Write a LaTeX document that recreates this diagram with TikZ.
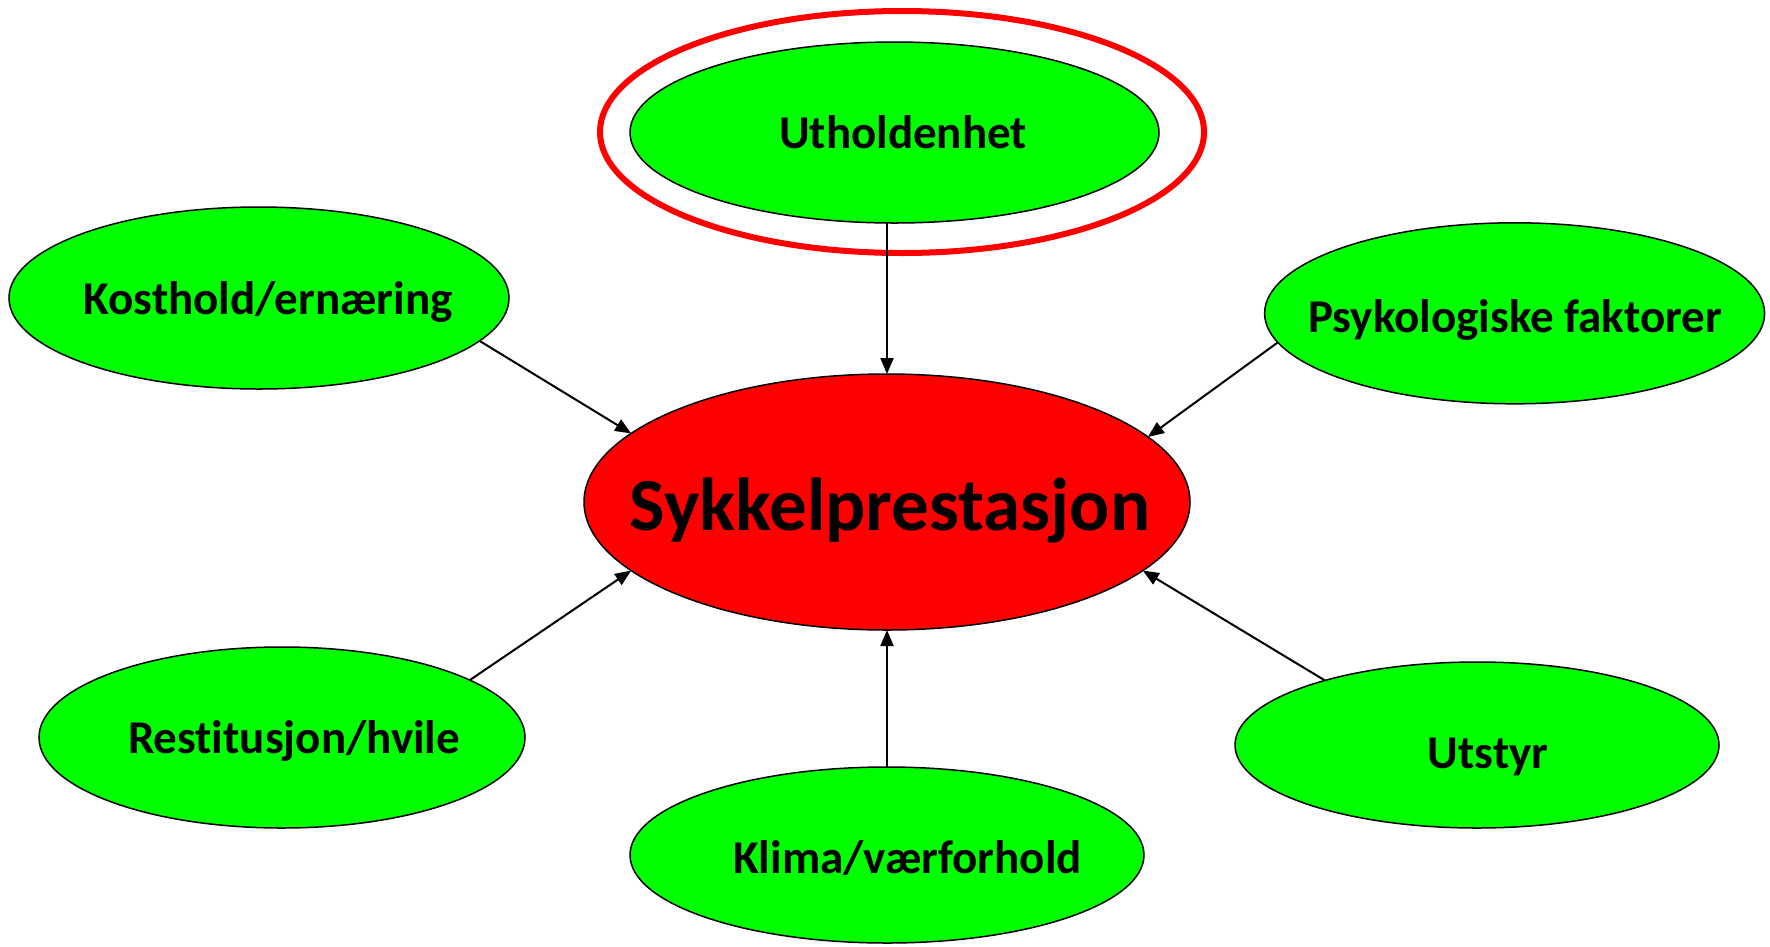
\documentclass[tikz,border=0pt]{standalone}
\usepackage{fontspec}
\setmainfont[Ligatures={NoCommon}]{Carlito}
\usetikzlibrary{shapes.geometric,arrows.meta}
\definecolor{pgreen}{RGB}{0,255,0}
\definecolor{pred}{RGB}{255,0,0}
\tikzset{
  oval/.style={ellipse, draw=black, line width=1.5pt, inner sep=0pt, outer sep=0pt},
  greenoval/.style={oval, fill=pgreen},
  lbl/.style={anchor=base, inner sep=0pt, font=\bfseries\fontsize{47}{50}\selectfont},
  arr/.style={line width=2pt, -{Triangle[length=16pt,width=13pt]}}
}
\begin{document}
\begin{tikzpicture}[x=1pt,y=-1pt]
\useasboundingbox (0,0) rectangle (1770,946);
% red ring
\node[ellipse, draw=pred, line width=6pt, minimum width=604pt, minimum height=242pt, inner sep=0pt, outer sep=0pt] (ring) at (902,132) {};
% nodes
\node[greenoval, minimum width=529pt, minimum height=181pt] (uth) at (894.5,132.5) {};
\node[greenoval, minimum width=500pt, minimum height=182pt] (kost) at (259,298) {};
\node[greenoval, minimum width=500pt, minimum height=181pt] (psyk) at (1514.6,313.3) {};
\node[greenoval, minimum width=486pt, minimum height=181pt] (rest) at (282,737.5) {};
\node[greenoval, minimum width=484pt, minimum height=166pt] (utst) at (1477,745) {};
\node[greenoval, minimum width=514pt, minimum height=176pt] (klim) at (887,855) {};
\node[oval, fill=pred, minimum width=606pt, minimum height=256pt] (syk) at (887,502) {};
% labels
\node[lbl, font=\bfseries\fontsize{75}{80}\selectfont] (tsyk) at (890,530) {Sykkelprestasjon};
\node[lbl] (tuth) at (903,148) {Utholdenhet};
\node[lbl] (tkost) at (268,314) {Kosthold/ernæring};
\node[lbl] (tpsyk) at (1515,332.7) {Psykologiske faktorer};
\node[lbl] (trest) at (294,753) {Restitusjon/hvile};
\node[lbl] (tutst) at (1488,768) {Utstyr};
\node[lbl] (tklim) at (907.5,873) {Klima/værforhold};
% arrows
\draw[arr] (uth.south -| syk.north) -- (syk.north);
\draw[arr] (kost.-11.6) -- (syk.165.8);
\draw[arr] (psyk.187.6) -- (syk.14.7);
\draw[arr] (rest.17.1) -- (syk.195.9);
\draw[arr] (utst.157.5) -- (syk.-15.1);
\draw[arr] (klim.north) -- (syk.south);
\end{tikzpicture}
\end{document}
